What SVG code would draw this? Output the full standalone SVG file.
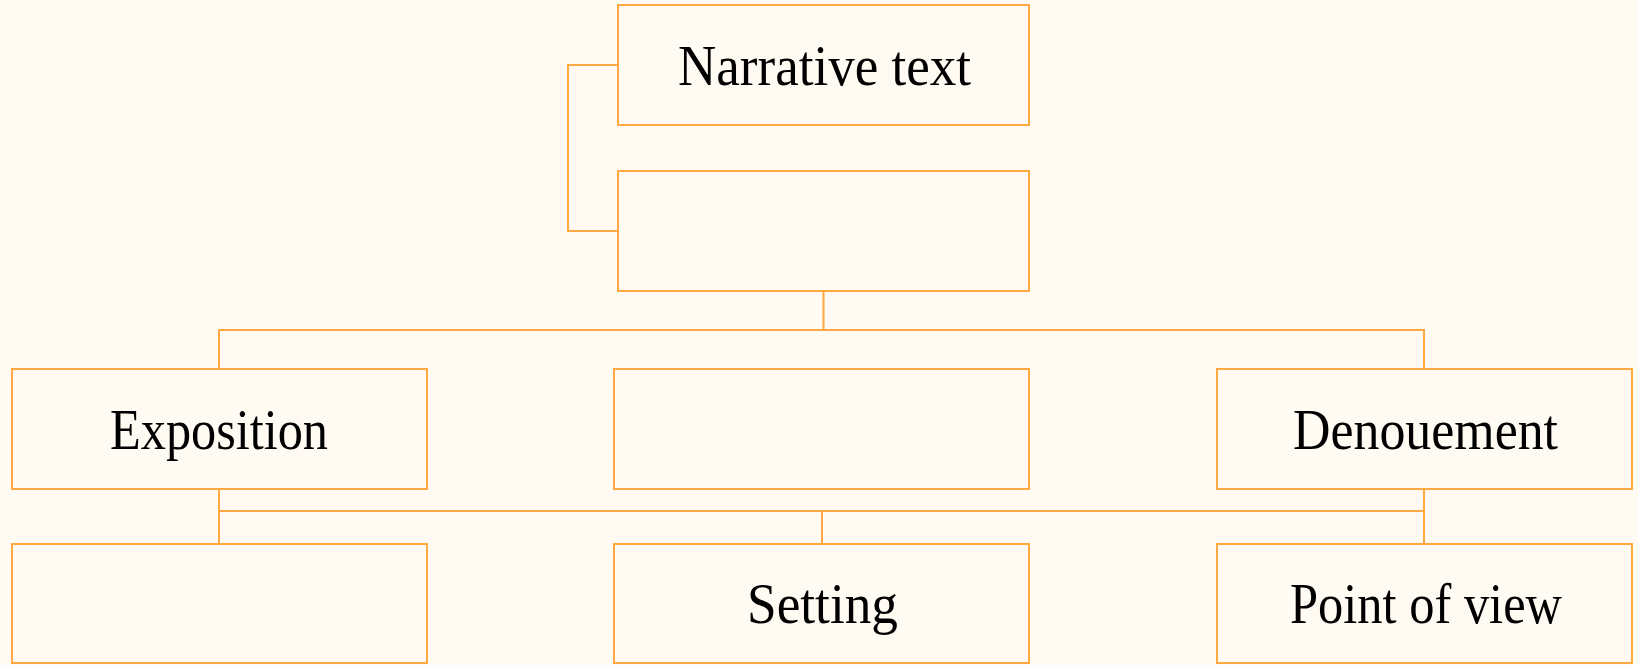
<svg xmlns="http://www.w3.org/2000/svg" width="1638" height="665" viewBox="0 0 1638 665">
<style>
.box{fill:#FFFAF2;stroke:#FFA940;stroke-width:2}
.con{fill:none;stroke:#FFA940;stroke-width:2}
.lbl{font-family:"Liberation Serif",serif;font-size:58px;fill:#000;text-anchor:middle}
</style>
<rect width="1638" height="665" fill="#FFFAF2"/>
<g id="connectors">
<polyline class="con" points="618,65 568,65 568,231 618,231"/>
<polyline class="con" points="823.5,291 823.5,330"/>
<polyline class="con" points="219,369 219,330 1424,330 1424,369"/>
<polyline class="con" points="219,489 219,544"/>
<polyline class="con" points="1424,489 1424,544"/>
<polyline class="con" points="219,511 1424,511"/>
<polyline class="con" points="822,511 822,544"/>
</g>
<g id="n1"><rect class="box" x="618" y="5" width="411" height="120"/><text class="lbl" x="824.5" y="85" textLength="293" lengthAdjust="spacingAndGlyphs">Narrative text</text></g>
<g id="n2"><rect class="box" x="618" y="171" width="411" height="120"/></g>
<g id="n3"><rect class="box" x="12" y="369" width="415" height="120"/><text class="lbl" x="219" y="449" textLength="218" lengthAdjust="spacingAndGlyphs">Exposition</text></g>
<g id="n4"><rect class="box" x="614" y="369" width="415" height="120"/></g>
<g id="n5"><rect class="box" x="1217" y="369" width="415" height="120"/><text class="lbl" x="1425.5" y="449" textLength="265" lengthAdjust="spacingAndGlyphs">Denouement</text></g>
<g id="n6"><rect class="box" x="12" y="544" width="415" height="119"/></g>
<g id="n7"><rect class="box" x="614" y="544" width="415" height="119"/><text class="lbl" x="822.5" y="623" textLength="151" lengthAdjust="spacingAndGlyphs">Setting</text></g>
<g id="n8"><rect class="box" x="1217" y="544" width="415" height="119"/><text class="lbl" x="1426" y="623" textLength="272" lengthAdjust="spacingAndGlyphs">Point of view</text></g>
</svg>
